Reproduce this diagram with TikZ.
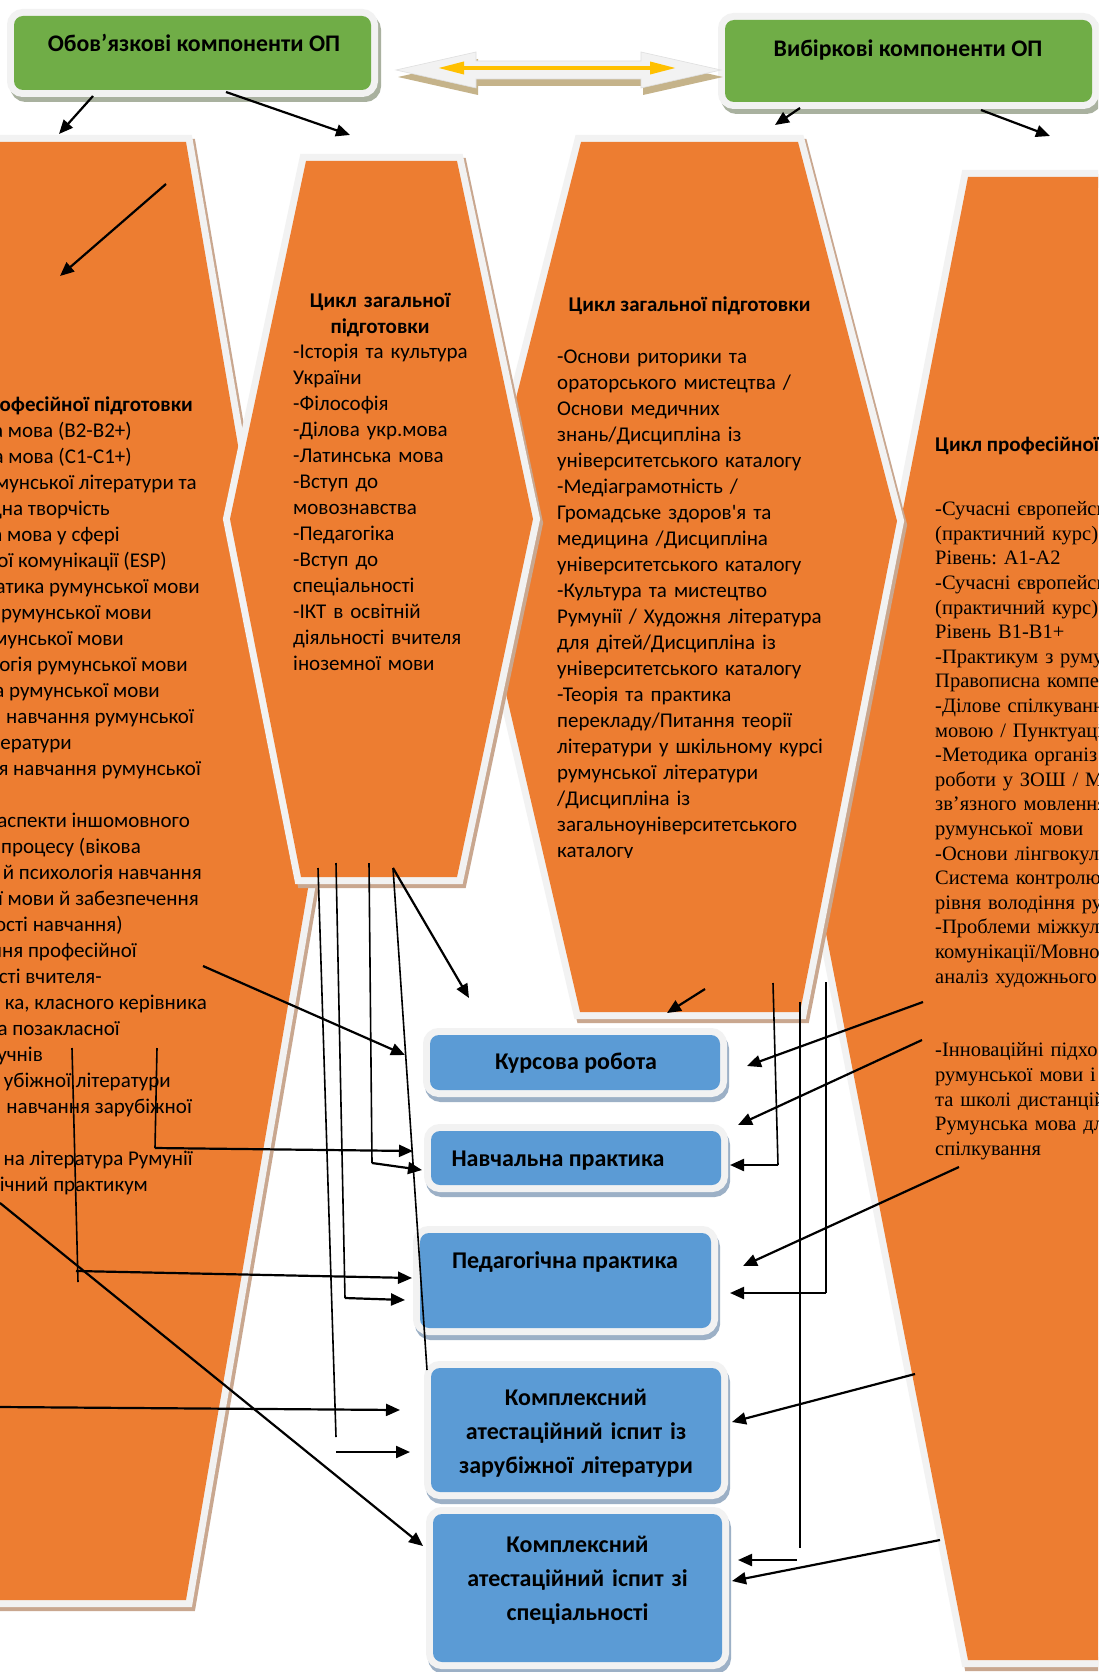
\documentclass[tikz,border=0pt]{standalone}
\usepackage{fontspec}
\setmainfont{Carlito}
\newfontfamily\tnr{Liberation Serif}
\usetikzlibrary{arrows.meta}
\definecolor{orng}{HTML}{ED7D31}
\definecolor{grn}{HTML}{70AD47}
\definecolor{blu}{HTML}{5B9BD5}
\definecolor{frm}{HTML}{F2F2F2}
\definecolor{tanshd}{HTML}{C9A78F}
\definecolor{bshd}{HTML}{9CB0C6}
\definecolor{gshd}{HTML}{A9B19F}
\definecolor{ylw}{HTML}{FFC000}
\definecolor{atan}{HTML}{C5B38A}
\newcommand\orhex[6]{%
  \draw[tanshd,line width=14pt,shift={(3,4)}] #1--#2--#3--#4--#5--#6--cycle;
  \draw[frm,line width=14pt] #1--#2--#3--#4--#5--#6--cycle;
  \fill[orng] #1--#2--#3--#4--#5--#6--cycle;}
\frenchspacing
\begin{document}
\begin{tikzpicture}[x=1pt,y=-1pt,
  hx/.style={font=\fontsize{21}{26}\selectfont, inner sep=0pt},
  hxl/.style={hx, anchor=east, text height=15pt, text depth=5pt},
  hxb/.style={font=\fontsize{21}{26}\selectfont\bfseries, inner sep=0pt},
  tm/.style={font=\tnr\fontsize{20.5}{24.6}\selectfont, inner sep=0pt},
  bxt/.style={font=\fontsize{24}{34}\selectfont\bfseries, inner sep=0pt, align=center},
  gxt/.style={font=\fontsize{23.8}{28}\selectfont\bfseries, inner sep=0pt},
  bbox/.style={rectangle, rounded corners=9pt, inner sep=0pt, fill=blu,
    preaction={draw=bshd, line width=14pt, transform canvas={shift={(2,5)}}},
    preaction={draw=frm, line width=14pt}},
  gbox/.style={rectangle, rounded corners=9pt, inner sep=0pt, fill=grn,
    preaction={draw=gshd, line width=14pt, transform canvas={shift={(3,5)}}},
    preaction={draw=frm, line width=14pt}},
  arr/.style={line width=2.2pt, -{Triangle[length=14pt,width=12pt]}},
  ln/.style={line width=1.6pt},
]
\useasboundingbox (0,0) rectangle (1098,1672);
\clip (0,0) rectangle (1098,1672);
\fill[white] (0,0) rectangle (1098,1672);

% ---- hexagonal blocks ----
\orhex{(-175,142)}{(186,142)}{(311,871)}{(186,1600)}{(-175,1600)}{(-300,871)}
\orhex{(968,177)}{(1300,177)}{(1450,918)}{(1300,1660)}{(968,1660)}{(823,918)}
\orhex{(581,142)}{(798,142)}{(897,521)}{(800,1012)}{(580,1012)}{(475,560)}
\orhex{(306,161)}{(457,161)}{(533,519)}{(457,877)}{(301,877)}{(230,519)}

% ---- hex 1 text (left, cut by the page edge) ----
\node[hxb, anchor=east, text height=15pt, text depth=5pt] (h1t) at (193,406) {офесійної підготовки};
\foreach \yy/\xx/\txt [count=\i] in {
  432/132/{а мова (B2-B2+)},
  458/132/{а мова (C1-C1+)},
  484/197/{мунської літератури та},
  510/110/{дна творчість},
  536/120/{а мова у сфері},
  562/167/{ої комунікації (ESP)},
  588/200/{атика румунської мови},
  614/152/{румунської мови},
  640/124/{мунської мови},
  666/188/{огія румунської мови},
  692/160/{а румунської мови},
  718/194/{навчання румунської},
  744/72/{ератури},
  770/201/{я навчання румунської},
  822/190/{аспекти іншомовного},
  848/141/{процесу (вікова},
  874/202/{й психологія навчання},
  900/199/{ї мови й забезпечення},
  926/123/{ості навчання)},
  952/137/{ння професійної},
  978/102/{сті вчителя-},
  1004/207/{ка, класного керівника},
  1030/120/{а позакласної},
  1056/43/{учнів},
  1082/171/{убіжної літератури},
  1108/192/{навчання зарубіжної},
  1160/193/{на література Румунії},
  1186/148/{ічний практикум}}
  {\node[hxl, name=h1l\i] at (\xx,\yy) {\txt};}

% ---- hex 2 text ----
\node[hxb, anchor=base, text width=190pt, align=center] (h2t) at (380,307) {Цикл загальної\\підготовки};
\node[hx, anchor=base west, text width=210pt, align=left] (h2b) at (293,358.5) {-Історія та культура\\України\\-Філософія\\-Ділова укр.мова\\-Латинська мова\\-Вступ до\\мовознавства\\-Педагогіка\\-Вступ до\\спеціальності\\-ІКТ в освітній\\діяльності вчителя\\іноземної мови};

% ---- hex 3 text ----
\node[hxb, anchor=base] (h3t) at (689.5,311.5) {Цикл загальної підготовки};
\begin{scope}
\clip (540,330) rectangle (840,857);
\node[hx, anchor=base west, text width=300pt, align=left] (h3b) at (557,363.5) {-Основи риторики та\\ораторського мистецтва /\\Основи медичних\\знань/Дисципліна із\\університетського каталогу\\-Медіаграмотність /\\Громадське здоров\textquotesingle я та\\медицина /Дисципліна\\університетського каталогу\\-Культура та мистецтво\\Румунії / Художня література\\для дітей/Дисципліна із\\університетського каталогу\\-Теорія та практика\\перекладу/Питання теорії\\літератури у шкільному курсі\\румунської літератури\\/Дисципліна із\\загальноуніверситетського\\каталогу};
\end{scope}

% ---- hex 4 text (right, cut by the page edge) ----
\node[hxb, anchor=base west] (h4t) at (935,451) {Цикл професійної};
\node[tm, anchor=base west, text width=300pt, align=left] (h4b) at (935,515.7) {-Сучасні європейсь\\(практичний курс)\\Рівень: А1-А2\\-Сучасні європейсь\\(практичний курс)\\Рівень В1-В1+\\-Практикум з руму\\Правописна компет\\-Ділове спілкуванн\\мовою / Пунктуаці\\-Методика організ\\роботи у ЗОШ / Ме\\зв’язного мовлення\\румунської мови\\-Основи лінгвокуль\\Система контролю\\рівня володіння рум\\-Проблеми міжкуль\\комунікації/Мовно\\аналіз художнього\\[49.2pt]-Інноваційні підхо\\румунської мови і\\та школі дистанцій\\Румунська мова дл\\спілкування};

% ---- blue boxes ----
\node[bbox, minimum width=290pt, minimum height=55pt] (b1) at (575,1062.5) {};
\node[bbox, minimum width=290pt, minimum height=54pt] (b2) at (576,1158) {};
\node[bbox, minimum width=291pt, minimum height=95pt] (b3) at (565.5,1280.5) {};
\node[bbox, minimum width=290pt, minimum height=124pt] (b4) at (576,1430) {};
\node[bbox, minimum width=289pt, minimum height=148pt] (b5) at (577.5,1588) {};
\node[bxt, anchor=base] (b1t) at (576,1069) {Курсова робота};
\node[bxt, anchor=base] (b2t) at (558,1166) {Навчальна практика};
\node[bxt, anchor=base] (b3t) at (565,1268) {Педагогічна практика};
\node[bxt, anchor=base, text width=290pt] (b4t) at (576,1405) {Комплексний\\атестаційний іспит із\\зарубіжної літератури};
\node[bxt, anchor=base, text width=289pt] (b5t) at (577.5,1552) {Комплексний\\атестаційний іспит зі\\спеціальності};

% ---- green boxes ----
\node[gbox, minimum width=357pt, minimum height=74pt] (g1) at (192.5,53) {};
\node[gbox, minimum width=367pt, minimum height=82pt] (g2) at (908.5,61) {};
\node[gxt, anchor=base] (g1t) at (194,51.5) {Обов’язкові компоненти ОП};
\node[gxt, anchor=base] (g2t) at (908,56.5) {Вибіркові компоненти ОП};

% ---- double block arrow ----
\fill[atan,shift={(2,7)}] (396,70) -- (476,52) -- (476,61) -- (641,61) -- (641,52) -- (721,70) -- (641,88) -- (641,79) -- (476,79) -- (476,88) -- cycle;
\filldraw[fill=frm, draw=gray!25, line width=0.6pt] (396,70) -- (476,52) -- (476,61) -- (641,61) -- (641,52) -- (721,70) -- (641,88) -- (641,79) -- (476,79) -- (476,88) -- cycle;
\coordinate (dal) at (438,68);
\coordinate (dar) at (676,68);
\draw[ylw, line width=3.5pt, {Triangle[length=26pt,width=12pt]}-{Triangle[length=26pt,width=12pt]}] (dal) -- (dar);

% ---- connector end points ----
\coordinate (c1s) at (93,96);   \coordinate (c1e) at (59,134);
\coordinate (c2s) at (226,92);  \coordinate (c2e) at (350,135);
\coordinate (c3s) at (800,108); \coordinate (c3e) at (775,125);
\coordinate (c4s) at (981,110); \coordinate (c4e) at (1050,136);
\coordinate (c5s) at (166,184); \coordinate (c5e) at (60,276);
\coordinate (c6s) at (393,868); \coordinate (c6e) at (469,998);
\coordinate (c7s) at (203,966); \coordinate (c7e) at (405,1055);
\coordinate (c8e) at (427,1370);
\coordinate (c9s) at (369,863); \coordinate (c9m) at (372,1163); \coordinate (c9e) at (422,1170);
\coordinate (c10s) at (336,863); \coordinate (c10m) at (345,1298); \coordinate (c10e) at (405,1300);
\coordinate (c11s) at (318,868); \coordinate (c11m) at (336,1437);
\coordinate (c11a) at (336,1452); \coordinate (c11e) at (410,1452);
\coordinate (c12s) at (72,1048); \coordinate (c12m) at (78,1282);
\coordinate (c12a) at (76,1271); \coordinate (c12e) at (412,1278);
\coordinate (c13s) at (157,1048); \coordinate (c13m) at (155,1148); \coordinate (c13e) at (413,1151);
\coordinate (c14s) at (0,1203); \coordinate (c14e) at (423,1546);
\coordinate (c15s) at (0,1407); \coordinate (c15e) at (400,1410);
\coordinate (c16s) at (923,1002); \coordinate (c16e) at (747,1066);
\coordinate (c17s) at (922,1040); \coordinate (c17e) at (738,1125);
\coordinate (c18s) at (773,983); \coordinate (c18m) at (778,1165); \coordinate (c18e) at (730,1165);
\coordinate (c19s) at (800,1002); \coordinate (c19m) at (800,1548);
\coordinate (c19a) at (797,1560); \coordinate (c19e) at (738,1560);
\coordinate (c20s) at (826,982); \coordinate (c20m) at (826,1293); \coordinate (c20e) at (730,1293);
\coordinate (c21s) at (959,1167); \coordinate (c21e) at (743,1266);
\coordinate (c22s) at (915,1374); \coordinate (c22e) at (732,1422);
\coordinate (c23s) at (940,1540); \coordinate (c23e) at (732,1581);
\coordinate (c24s) at (705,989); \coordinate (c24e) at (667,1013);

% ---- connectors ----
\draw[arr] (c1s) -- (c1e);
\draw[arr] (c2s) -- (c2e);
\draw[arr] (c3s) -- (c3e);
\draw[arr] (c4s) -- (c4e);
\draw[arr] (c5s) -- (c5e);
\draw[arr] (c6s) -- (c6e);
\draw[arr] (c7s) -- (c7e);
\draw[ln] (c6s) -- (c8e);
\draw[ln] (c9s) -- (c9m);
\draw[arr] (c9m) -- (c9e);
\draw[ln] (c10s) -- (c10m);
\draw[arr] (c10m) -- (c10e);
\draw[ln] (c11s) -- (c11m);
\draw[arr] (c11a) -- (c11e);
\draw[ln] (c12s) -- (c12m);
\draw[arr] (c12a) -- (c12e);
\draw[ln] (c13s) -- (c13m);
\draw[arr] (c13m) -- (c13e);
\draw[arr] (c14s) -- (c14e);
\draw[arr] (c15s) -- (c15e);
\draw[arr] (c16s) -- (c16e);
\draw[arr] (c17s) -- (c17e);
\draw[ln] (c18s) -- (c18m);
\draw[arr] (c18m) -- (c18e);
\draw[ln] (c19s) -- (c19m);
\draw[arr] (c19a) -- (c19e);
\draw[ln] (c20s) -- (c20m);
\draw[arr] (c20m) -- (c20e);
\draw[arr] (c21s) -- (c21e);
\draw[arr] (c22s) -- (c22e);
\draw[arr] (c23s) -- (c23e);
\draw[arr] (c24s) -- (c24e);
\end{tikzpicture}
\end{document}
